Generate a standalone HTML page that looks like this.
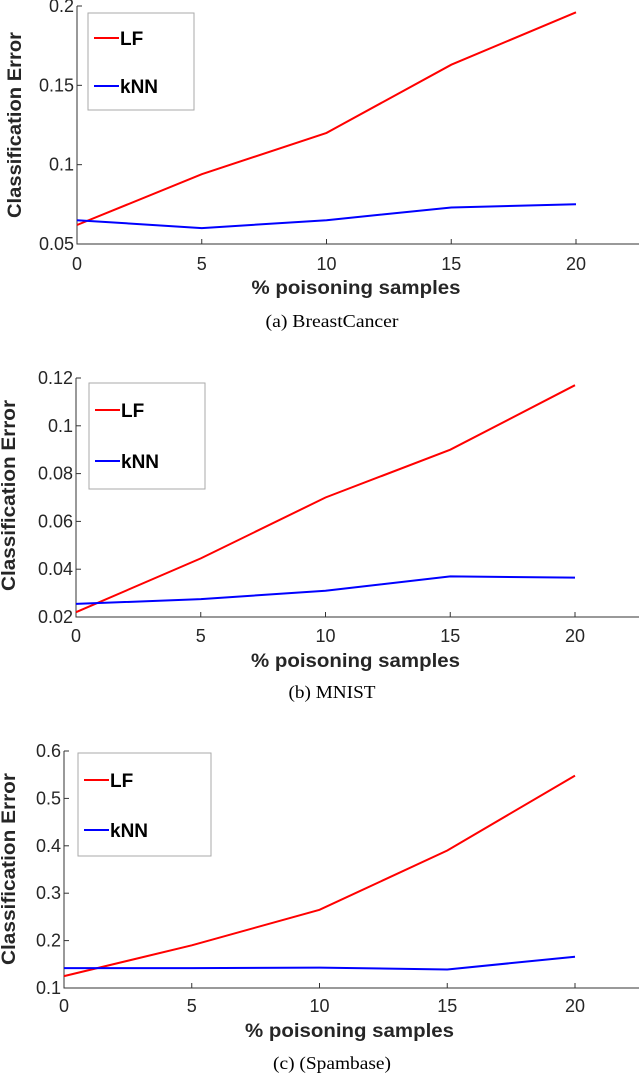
<!DOCTYPE html>
<html><head><meta charset="utf-8"><style>
html,body{margin:0;padding:0;background:#fff}
svg{display:block}
text{font-family:"Liberation Sans",sans-serif}
</style></head><body>
<svg id="fig" width="640" height="1074" viewBox="0 0 640 1074" xmlns="http://www.w3.org/2000/svg"></svg>
<script>
const xCategories = [0, 5, 10, 15, 20];
const xTickLabels = ["0", "5", "10", "15", "20"];
const seriesNames = ["LF", "kNN"];
const bcLF = [0.062, 0.094, 0.12, 0.163, 0.196];
const bcKNN = [0.065, 0.060, 0.065, 0.073, 0.075];
const bcTicks = [0.05, 0.1, 0.15, 0.2];
const bcTickLabels = ["0.05", "0.1", "0.15", "0.2"];
const mnLF = [0.022, 0.0445, 0.070, 0.090, 0.117];
const mnKNN = [0.0255, 0.0275, 0.031, 0.037, 0.0365];
const mnTicks = [0.02, 0.04, 0.06, 0.08, 0.1, 0.12];
const mnTickLabels = ["0.02", "0.04", "0.06", "0.08", "0.1", "0.12"];
const spLF = [0.125, 0.19, 0.265, 0.39, 0.548];
const spKNN = [0.142, 0.142, 0.143, 0.139, 0.166];
const spTicks = [0.1, 0.2, 0.3, 0.4, 0.5, 0.6];
const spTickLabels = ["0.1", "0.2", "0.3", "0.4", "0.5", "0.6"];

const NS = "http://www.w3.org/2000/svg";
const svg = document.getElementById("fig");
function mk(tag, attrs, parent, txt) {
  const e = document.createElementNS(NS, tag);
  for (const k in attrs) e.setAttribute(k, attrs[k]);
  if (txt !== undefined) e.textContent = txt;
  parent.appendChild(e);
  return e;
}
function chart(cfg) {
  const g = mk("g", {}, svg);
  
  
  const x0 = cfg.x0, x1 = cfg.x1, yTop = cfg.yTop, yBot = cfg.yBot;
  const xs = v => x0 + (v - 0) / 20 * (x1 - x0);
  const ys = v => yBot - (v - cfg.ymin) / (cfg.ymax - cfg.ymin) * (yBot - yTop);
  const ax = mk("path", {d: `M${x0} ${yTop}V${yBot}H639`, fill: "none", stroke: "#333", "stroke-width": 1}, g);
  
  
  cfg.yTicks.forEach((t, i) => {
    const y = ys(t);
    mk("line", {x1: x0, x2: x0 + 5, y1: y, y2: y, stroke: "#333"}, g);
    const tl = mk("text", {x: x0 - 3, y: y + 6, "text-anchor": "end", "font-size": 18, fill: "#262626"}, g, cfg.yLabels[i]);
    
    
  });
  xCategories.forEach((c, i) => {
    const x = xs(c);
    mk("line", {x1: x, x2: x, y1: yBot, y2: yBot - 5, stroke: "#333"}, g);
    const tl = mk("text", {x: x, y: cfg.tickY, "text-anchor": "middle", "font-size": 18, fill: "#262626"}, g, xTickLabels[i]);
    
    
  });
  [[cfg.lf, "#ff0000"], [cfg.knn, "#0000ff"]].forEach((s, si) => {
    const d = s[0].map((v, i) => (i ? "L" : "M") + xs(xCategories[i]).toFixed(1) + " " + ys(v).toFixed(1)).join("");
    const p = mk("path", {d: d, fill: "none", stroke: s[1], "stroke-width": 2}, g);
    
    
  });
  const lg = mk("g", {}, g);
  
  
  const L = cfg.leg;
  mk("rect", {x: L[0], y: L[1], width: L[2] - L[0], height: L[3] - L[1], fill: "#fff", stroke: "#aaa", "stroke-width": 1}, lg);
  [[cfg.lfY, "#ff0000", "LF"], [cfg.knnY, "#0000ff", "kNN"]].forEach(e => {
    const eg = mk("g", {}, lg);
    
    
    mk("line", {x1: L[0] + 6, x2: L[0] + 31, y1: e[0], y2: e[0], stroke: e[1], "stroke-width": 2}, eg);
    mk("text", {x: L[0] + 32, y: e[0] + 7, "font-size": 19, "font-weight": "bold", fill: "#000"}, eg, e[2]);
  });
  const xt = mk("text", {x: (x0 + 575) / 2 + 30, y: cfg.titleY, "text-anchor": "middle", "font-size": 19, "font-weight": "bold", fill: "#262626", textLength: 209, lengthAdjust: "spacingAndGlyphs"}, g, "% poisoning samples");
  
  
  const ytY = (cfg.ytTop + cfg.ytBot) / 2;
  const yt = mk("text", {x: 0, y: 0, transform: `translate(${cfg.ytX},${ytY}) rotate(-90)`, "text-anchor": "middle", "font-size": 19, "font-weight": "bold", fill: "#262626", textLength: cfg.ytBot - cfg.ytTop, lengthAdjust: "spacingAndGlyphs"}, g, "Classification Error");
  
  
  const cp = mk("text", {x: 332, y: cfg.capY, "text-anchor": "middle", "font-size": 18, fill: "#000", textLength: cfg.capW, lengthAdjust: "spacingAndGlyphs", style: "font-family:'Liberation Serif',serif"}, g, cfg.caption);
  
  
}
chart({name: "chart-breastcancer", x0: 77, x1: 576, yTop: 6, yBot: 244, ymin: 0.05, ymax: 0.2,
  yTicks: bcTicks, yLabels: bcTickLabels, lf: bcLF, knn: bcKNN, leg: [88, 13, 194, 110], lfY: 38, knnY: 86,
  tickY: 270, titleY: 294, ytX: 21, ytTop: 32, ytBot: 218, capY: 327, capW: 133, caption: "(a) BreastCancer"});
chart({name: "chart-mnist", x0: 76, x1: 575, yTop: 378, yBot: 617, ymin: 0.02, ymax: 0.12,
  yTicks: mnTicks, yLabels: mnTickLabels, lf: mnLF, knn: mnKNN, leg: [89, 383, 205, 489], lfY: 410, knnY: 461,
  tickY: 642, titleY: 667, ytX: 15, ytTop: 400, ytBot: 591, capY: 698, capW: 87, caption: "(b) MNIST"});
chart({name: "chart-spambase", x0: 64, x1: 575, yTop: 751, yBot: 988, ymin: 0.1, ymax: 0.6,
  yTicks: spTicks, yLabels: spTickLabels, lf: spLF, knn: spKNN, leg: [78, 753, 211, 856], lfY: 780, knnY: 830,
  tickY: 1012, titleY: 1037, ytX: 15, ytTop: 773, ytBot: 965, capY: 1069, capW: 118, caption: "(c) (Spambase)"});
</script>
</body></html>
